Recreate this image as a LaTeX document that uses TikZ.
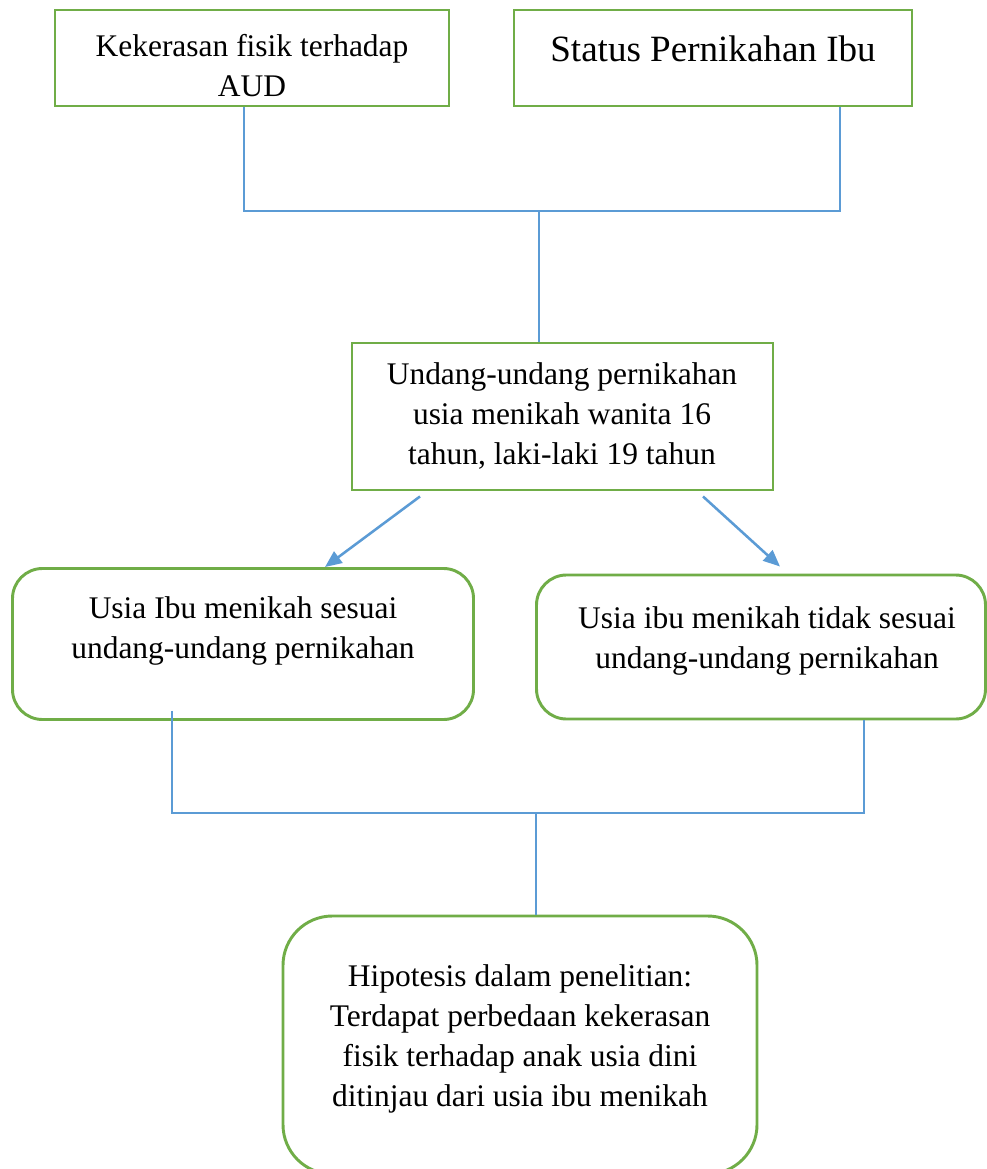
\documentclass[tikz,border=0pt]{standalone}
\usepackage{fontspec}
\setmainfont{Liberation Serif}
\usetikzlibrary{calc,arrows.meta}
\definecolor{grn}{HTML}{70AD47}
\definecolor{blu}{HTML}{5B9BD5}
\tikzset{
  x=0.75pt, y=-0.75pt,
  sqbox/.style={draw=grn, line width=2.2pt, inner sep=0pt},
  rbox/.style={sqbox, rounded corners=#1},
  txt/.style={align=center, inner sep=0pt, font=\fontsize{23.6pt}{30pt}\selectfont},
  bigtxt/.style={align=center, inner sep=0pt, font=\fontsize{27.8pt}{33pt}\selectfont},
  conn/.style={draw=blu, line width=0.9pt},
  arr/.style={draw=blu, line width=1.9pt, -{Triangle[length=12.5pt,width=10.5pt]}, blu}
}
\begin{document}
\begin{tikzpicture}
\useasboundingbox (0,0) rectangle (987,1169);
\clip (0,0) rectangle (987,1169);
\fill[white] (0,0) rectangle (987,1169);
% boxes
\node[sqbox, minimum width={394*0.75pt}, minimum height={96*0.75pt}] (b1) at (252,58) {};
\node[sqbox, minimum width={398*0.75pt}, minimum height={96*0.75pt}] (b2) at (713,58) {};
\node[sqbox, minimum width={421*0.75pt}, minimum height={147*0.75pt}] (b3) at (562.5,416.5) {};
\node[rbox=22.5pt, minimum width={461*0.75pt}, minimum height={151*0.75pt}] (b4) at (243,644) {};
\node[rbox=22.5pt, minimum width={449*0.75pt}, minimum height={144*0.75pt}] (b5) at (761,647) {};
\node[rbox=37pt, minimum width={474*0.75pt}, minimum height={258*0.75pt}] (b6) at (520,1045) {};
% texts
\node[txt] (t1) at (252,66) {Kekerasan fisik terhadap\\AUD};
\node[bigtxt] (t2) at (713,48.5) {Status Pernikahan Ibu};
\node[txt] (t3) at (562,416.5) {Undang-undang pernikahan\\usia menikah wanita 16\\tahun, laki-laki 19 tahun};
\node[txt] (t4) at (243,631) {Usia Ibu menikah sesuai\\undang-undang pernikahan};
\node[txt] (t5) at (767,641) {Usia ibu menikah tidak sesuai\\undang-undang pernikahan};
\node[txt] (t6) at (520,1038.5) {Hipotesis dalam penelitian:\\Terdapat perbedaan kekerasan\\fisik terhadap anak usia dini\\ditinjau dari usia ibu menikah};
% connectors
\coordinate (j1) at (539,211);
\draw[conn] ($(b1.south)+(-8,0)$) |- (j1) -| ($(b2.south)+(127,0)$);
\draw[conn] (j1) -- (j1 |- b3.north);
\coordinate (j2) at (536,813);
\draw[conn] ($(b4.south)+(-71,-10)$) |- (j2) -| ($(b5.south)+(103,0)$);
\draw[conn] (j2) -- (j2 |- b6.north);
% arrows
\draw[arr] ($(b3.south)+(-142.5,5)$) -- ($(b4.north)+(82,0)$);
\draw[arr] ($(b3.south)+(140.5,5)$) -- ($(b5.north)+(19,-7)$);
\end{tikzpicture}
\end{document}
